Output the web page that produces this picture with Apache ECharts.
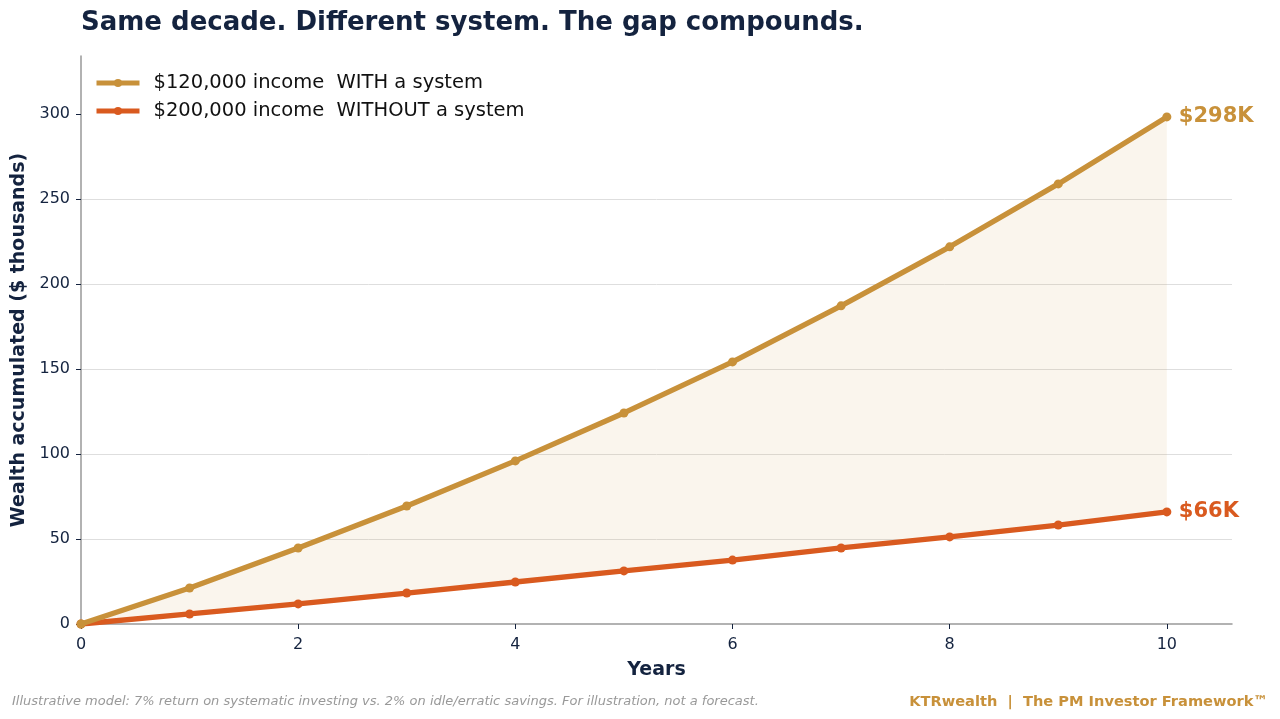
<!DOCTYPE html>
<html>
<head>
<meta charset="utf-8">
<script src="https://cdn.jsdelivr.net/npm/echarts@6/dist/echarts.min.js"></script>
<style>
  html, body { margin: 0; padding: 0; background: #fff; }
  #chart { width: 1280px; height: 719px; }
</style>
</head>
<body>
<div id="chart"></div>
<script>
(function (window, echarts) {
    'use strict';

    // data ($ thousands)
    const years = [0, 1, 2, 3, 4, 5, 6, 7, 8, 9, 10];
    const withSystem = [0, 21.2, 44.7, 69.4, 95.9, 124.1, 154.1, 187.1, 221.8, 258.8, 298.2];
    const withoutSystem = [0, 5.9, 11.8, 18.2, 24.7, 31.2, 37.6, 44.7, 51.2, 58.2, 65.9];
    const xTicks = [0, 2, 4, 6, 8, 10];
    const yTicks = [0, 50, 100, 150, 200, 250, 300];

    const GOLD = '#c8913a';
    const RUST = '#d95a1f';
    const NAVY = '#14233f';
    const FONT = '"DejaVu Sans", sans-serif';

    const pairs = values => years.map((y, i) => [y, values[i]]);

    const chart = echarts.init(document.getElementById('chart'));

    chart.setOption({
        animation: false,
        textStyle: { fontFamily: FONT },
        title: [
            {
                text: 'Same decade. Different system. The gap compounds.',
                left: 76, top: 5,
                textStyle: { fontFamily: FONT, fontSize: 26, fontWeight: 'bold', color: NAVY }
            },
            {
                text: 'Illustrative model: 7% return on systematic investing vs. 2% on idle/erratic savings. For illustration, not a forecast.',
                left: 7, top: 690,
                textStyle: { fontFamily: FONT, fontSize: 13, fontStyle: 'italic', fontWeight: 'normal', color: '#999999' }
            },
            {
                text: 'KTRwealth  |  The PM Investor Framework™',
                right: 7, top: 690,
                textStyle: { fontFamily: FONT, fontSize: 14.6, fontWeight: 'bold', color: GOLD }
            }
        ],
        legend: {
            left: 89, top: 68,
            orient: 'vertical',
            itemGap: 8,
            itemWidth: 43,
            itemHeight: 10,
            lineStyle: { width: 5 },
            data: ['$120,000 income  WITH a system', '$200,000 income  WITHOUT a system'],
            textStyle: { fontFamily: FONT, fontSize: 19.5, color: '#111111', padding: [0, 0, 0, 9] }
        },
        grid: { left: 81, right: 48, top: 56, bottom: 95 },
        xAxis: {
            type: 'value',
            min: 0, max: 10.6, interval: 2,
            name: 'Years',
            nameLocation: 'middle',
            nameGap: 37,
            nameTextStyle: { fontFamily: FONT, fontSize: 19, fontWeight: 'bold', color: NAVY },
            axisLine: { show: true, lineStyle: { color: '#999999', width: 1.5 } },
            axisTick: { show: true, length: 5, customValues: xTicks, lineStyle: { color: NAVY, width: 1 } },
            axisLabel: { customValues: xTicks, fontSize: 16, color: NAVY, margin: 13 },
            splitLine: { show: false }
        },
        yAxis: {
            type: 'value',
            min: 0, max: 334, interval: 50,
            name: 'Wealth accumulated ($ thousands)',
            nameLocation: 'middle',
            nameGap: 48,
            nameTextStyle: { fontFamily: FONT, fontSize: 19, fontWeight: 'bold', color: NAVY },
            axisLine: { show: true, lineStyle: { color: '#999999', width: 1.5 } },
            axisTick: { show: true, length: 5, customValues: yTicks, lineStyle: { color: NAVY, width: 1 } },
            axisLabel: { customValues: yTicks, fontSize: 16, color: NAVY, margin: 11 },
            splitLine: { show: true, showMinLine: false, showMaxLine: false, lineStyle: { color: '#dedede', width: 1 } }
        },
        series: [
            {
                // shaded gap between the two curves
                name: 'gap',
                type: 'custom',
                silent: true,
                z: 1,
                data: [0],
                renderItem: function (params, api) {
                    const top = years.map((y, i) => api.coord([y, withSystem[i]]));
                    const bottom = years.map((y, i) => api.coord([y, withoutSystem[i]])).reverse();
                    return {
                        type: 'polygon',
                        shape: { points: top.concat(bottom) },
                        style: { fill: 'rgba(200, 145, 58, 0.09)' }
                    };
                }
            },
            {
                name: '$120,000 income  WITH a system',
                type: 'line',
                data: pairs(withSystem),
                color: GOLD,
                symbol: 'circle',
                symbolSize: 9,
                lineStyle: { width: 5.3, color: GOLD },
                itemStyle: { color: GOLD },
                endLabel: {
                    show: true,
                    formatter: '$298K',
                    distance: 12,
                    fontFamily: FONT, fontSize: 21, fontWeight: 'bold', color: GOLD
                },
                z: 4
            },
            {
                name: '$200,000 income  WITHOUT a system',
                type: 'line',
                data: pairs(withoutSystem),
                color: RUST,
                symbol: 'circle',
                symbolSize: 9,
                lineStyle: { width: 5.3, color: RUST },
                itemStyle: { color: RUST },
                endLabel: {
                    show: true,
                    formatter: '$66K',
                    distance: 12,
                    fontFamily: FONT, fontSize: 21, fontWeight: 'bold', color: RUST
                },
                z: 3
            }
        ]
    });

})(window, echarts);
</script>
</body>
</html>
